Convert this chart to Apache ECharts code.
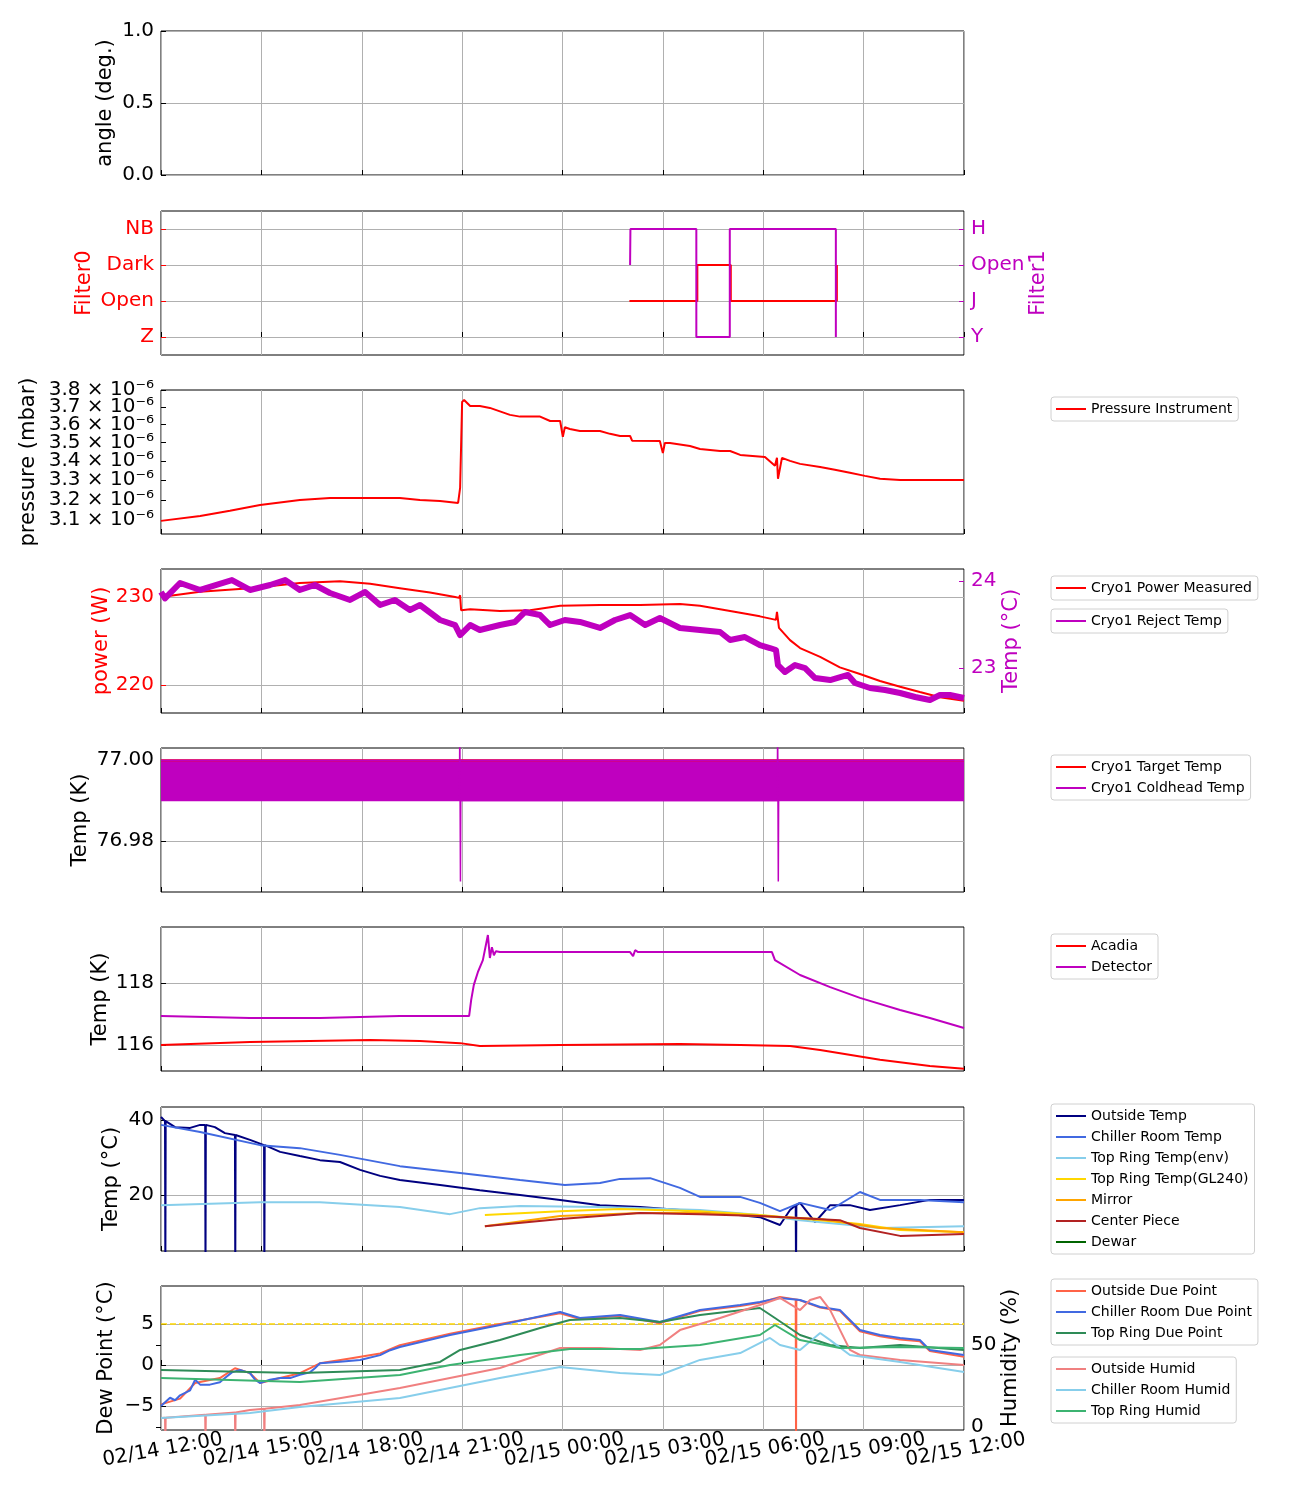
<!DOCTYPE html>
<html><head><meta charset="utf-8">
<script src="https://cdn.jsdelivr.net/npm/echarts@6/dist/echarts.min.js"></script>
<style>html,body{margin:0;padding:0;background:#fff}#c{width:1300px;height:1500px}</style>
</head><body><div id="c"></div>
<script>
// ---------- tick labels / categories ----------
const xTickLabels = ['02/14 12:00','02/14 15:00','02/14 18:00','02/14 21:00','02/15 00:00','02/15 03:00','02/15 06:00','02/15 09:00','02/15 12:00'];
const xTickHours = [0,3,6,9,12,15,18,21,24];
const filter0Names = ['Z','Open','Dark','NB'];
const filter1Names = ['Y','J','Open','H'];
const pressureTicks = [3.1e-6,3.2e-6,3.3e-6,3.4e-6,3.5e-6,3.6e-6,3.7e-6,3.8e-6];

// ---------- data (time in hours since 02/14 12:00) ----------
const filter0Time = [14.0, 16.03, 17.03, 20.2];
const filter0Val  = [1, 2, 1, 2];
const filter1Time = [14.02, 14.03, 16.0, 17.0, 20.17];
const filter1Val  = [2, 3, 0, 3, 0];

const pressureTime = [0,1.17,2.06,2.96,4.15,5.05,7.14,7.74,8.34,8.88,8.94,9.0,9.06,9.24,9.53,9.83,10.13,10.43,10.73,11.33,11.63,11.93,12.01,12.07,12.22,12.52,13.12,13.42,13.72,14.02,14.08,14.91,15.0,15.06,15.21,15.81,16.11,16.71,17.01,17.31,18.05,18.35,18.41,18.44,18.56,18.8,19.1,19.7,20.14,20.59,21.04,21.49,22.09,22.68,24];
const pressureVal  = [3.096,3.120,3.145,3.174,3.199,3.209,3.209,3.199,3.194,3.184,3.26,3.73,3.741,3.706,3.706,3.695,3.675,3.655,3.645,3.645,3.620,3.620,3.531,3.585,3.575,3.564,3.564,3.548,3.536,3.536,3.510,3.509,3.443,3.498,3.498,3.481,3.465,3.454,3.454,3.433,3.422,3.375,3.417,3.307,3.417,3.401,3.385,3.369,3.354,3.338,3.322,3.307,3.301,3.301,3.301].map(v=>v*1e-6);

const powerTime = [0,1.17,2.66,4.15,5.35,6.25,7.14,8.04,8.79,8.91,8.94,8.97,9.24,10.13,11.03,11.93,13.12,14.32,15.51,16.11,16.71,17.31,17.90,18.38,18.41,18.47,18.80,19.10,19.70,20.29,20.89,21.49,22.09,22.68,23.28,24];
const powerVal  = [230.0,230.6,231.0,231.6,231.8,231.5,231.0,230.5,230.0,229.9,230.2,228.5,228.6,228.4,228.5,229.0,229.1,229.1,229.2,229.0,228.6,228.2,227.8,227.4,228.3,226.5,225.1,224.2,223.2,222.0,221.25,220.45,219.8,219.2,218.6,218.2];

const rejectTime = [0,0.12,0.57,1.17,2.12,2.66,3.26,3.71,4.15,4.60,5.05,5.65,6.10,6.55,6.99,7.44,7.74,8.34,8.79,8.94,9.24,9.53,10.13,10.58,10.88,11.33,11.63,12.07,12.52,13.12,13.57,14.02,14.47,14.91,15.51,16.11,16.71,17.01,17.45,17.90,18.20,18.38,18.44,18.65,18.95,19.25,19.55,20.00,20.53,20.74,21.19,21.64,22.09,22.54,22.98,23.28,23.58,24];
const rejectVal  = [23.874,23.80,23.977,23.897,24.011,23.897,23.954,24.011,23.897,23.954,23.862,23.782,23.874,23.724,23.782,23.667,23.724,23.552,23.494,23.379,23.494,23.437,23.494,23.529,23.644,23.609,23.494,23.552,23.529,23.460,23.552,23.609,23.494,23.575,23.460,23.437,23.414,23.322,23.356,23.264,23.230,23.207,23.034,22.954,23.034,23.0,22.885,22.862,22.920,22.828,22.770,22.747,22.713,22.667,22.632,22.690,22.690,22.655];

const targetTime = [0, 24];
const targetVal  = [77.00, 77.00];
const coldheadBandTime = [0, 24];
const coldheadLow  = 76.99;
const coldheadHigh = [77.00, 77.00];
const coldheadSpikeTime = [8.92,8.93,8.95,8.96,8.98, 18.42,18.43,18.45,18.46,18.48];
const coldheadSpikeVal  = [76.99,77.01,76.970,76.99,76.99, 76.99,77.01,76.970,76.99,76.99];

const detectorTime = [0,2.66,4.75,7.14,9.21,9.27,9.35,9.47,9.62,9.77,9.83,9.89,9.95,10.01,10.13,14.02,14.11,14.17,14.26,18.26,18.35,19.10,20.0,20.89,22.09,22.98,24];
const detectorVal  = [116.94,116.87,116.87,116.94,116.94,117.45,117.94,118.35,118.74,119.55,118.81,119.16,118.9,119.03,119.0,119.0,118.87,119.06,119.0,119.0,118.74,118.26,117.87,117.52,117.13,116.87,116.55];
const acadiaTime = [0,2.66,6.25,7.74,8.94,9.53,11.93,15.51,17.31,18.80,19.70,21.49,22.98,24];
const acadiaVal  = [116.0,116.1,116.16,116.13,116.06,115.97,116.0,116.03,116.0,115.97,115.84,115.52,115.32,115.23];

const outsideTempTime = [0,0.12,0.13,0.14,0.42,0.87,1.17,1.32,1.33,1.34,1.61,1.91,2.21,2.22,2.23,2.66,3.08,3.09,3.10,3.56,4.15,4.75,5.35,5.95,6.55,7.14,8.34,9.53,10.73,11.93,13.12,14.32,15.51,16.71,17.90,18.50,18.80,18.97,18.98,18.99,19.10,19.55,20.00,20.59,21.19,22.09,22.98,24];
const outsideTempVal  = [40.8,39.7,0,39.7,38.1,37.9,38.7,38.7,0,38.7,38.1,36.5,36.0,0,36.0,34.7,33.3,0,33.3,31.5,30.4,29.3,28.8,26.7,25.1,24.0,22.7,21.3,20.0,18.7,17.3,16.8,16.0,15.2,14.1,12.0,16.0,17.3,0,17.3,17.9,12.8,17.3,17.3,16.0,17.3,18.7,18.7];
const chillerTempTime = [0,1.17,2.96,4.15,5.35,7.14,8.94,10.73,12.07,13.12,13.72,14.62,15.51,16.11,17.31,17.90,18.50,19.10,20.00,20.89,21.49,22.68,24];
const chillerTempVal  = [38.7,36.8,33.3,32.5,30.7,27.7,25.9,24.0,22.7,23.2,24.3,24.5,21.9,19.5,19.5,17.9,15.7,17.9,16.0,20.8,18.7,18.7,18.1];
const topRingEnvTime = [0,2.96,4.75,7.14,8.64,9.53,10.73,13.12,16.11,17.90,19.10,20.59,21.49,24];
const topRingEnvVal  = [17.3,18.1,18.1,16.8,14.9,16.5,17.1,16.8,16.0,14.7,13.3,12.0,11.2,11.7];
const gl240Time = [9.68,11.93,13.72,16.11,17.90,19.70,20.89,22.09,24];
const gl240Val  = [14.7,15.7,16.3,15.7,14.7,13.3,12.3,10.7,10.1];
const mirrorTime = [9.68,11.93,14.32,16.11,17.90,19.70,21.49,24];
const mirrorVal  = [11.7,14.4,15.2,15.2,14.4,13.6,11.2,10.1];
const centerTime = [9.68,11.93,14.32,16.11,17.90,20.29,20.89,22.09,24];
const centerVal  = [11.7,13.6,15.2,14.9,14.4,13.3,11.2,9.1,9.6];
const dewarTime = [];
const dewarVal  = [];

const dewThreshold = 5;
const chillerDPTime = [0,0.27,0.42,0.57,0.87,1.02,1.17,1.46,1.76,1.91,2.12,2.36,2.66,2.81,2.96,3.26,3.56,3.86,4.15,4.45,4.60,4.75,5.35,5.95,6.55,6.85,7.14,8.64,10.13,11.93,12.52,13.72,14.91,16.11,17.31,17.90,18.50,19.10,19.70,20.29,20.89,21.49,22.09,22.68,22.98,24];
const chillerDPVal  = [-5.0,-4.0,-4.3,-3.7,-3.1,-1.8,-2.4,-2.4,-2.1,-1.6,-0.9,-0.6,-1.0,-1.8,-2.2,-1.8,-1.6,-1.6,-1.2,-0.9,-0.4,0.2,0.4,0.6,1.2,1.8,2.2,3.66,4.88,6.46,5.73,6.1,5.24,6.71,7.32,7.68,8.17,7.93,7.07,6.71,4.27,3.66,3.29,3.05,1.83,1.22];
const outsideDPTime = [0,0.57,1.02,1.76,2.21,2.66,2.96,3.56,4.15,4.75,5.65,6.55,7.14,8.64,10.13,11.93,12.52,13.72,14.91,16.11,17.31,17.90,18.50,18.97,18.98,18.99,19.10,19.70,20.29,20.89,21.49,22.09,22.68,22.98,24];
const outsideDPVal  = [-4.8,-4.1,-2.2,-1.6,-0.4,-1.0,-2.2,-1.6,-1.0,0.2,0.8,1.4,2.4,3.8,5.0,6.3,5.6,6.0,5.1,6.6,7.2,7.6,8.3,8.0,-10,8.0,7.9,7.0,6.6,4.1,3.5,3.1,2.9,1.7,1.0];
const topRingDPTime = [0,2.66,4.15,7.14,8.34,8.94,10.13,11.33,12.22,13.72,14.91,16.11,17.90,18.35,19.10,20.0,20.89,22.09,24];
const topRingDPVal  = [-0.61,-0.85,-0.98,-0.61,0.37,1.83,3.05,4.51,5.49,5.73,5.24,6.1,6.95,5.73,3.66,2.44,2.07,2.44,1.83];

const outsideHumTime = [0,0.12,0.13,0.14,1.32,1.33,1.34,2.21,2.22,2.23,2.66,3.08,3.09,3.10,4.15,7.14,10.13,11.93,13.12,14.32,14.91,15.51,16.71,17.90,18.50,19.10,19.40,19.70,20.00,20.59,20.89,22.09,24];
const outsideHumVal  = [5.5,5.6,-10,5.6,7.4,-10,7.4,8.8,-10,8.8,10.4,11.2,-10,11.2,13.4,23.8,36,48.2,48.2,47,50,59.1,66.5,74.4,78.7,71.3,77.4,79.3,71.3,47,43.9,40.9,37.8];
const chillerHumTime = [0,2.66,4.15,7.14,10.13,11.93,13.72,14.91,16.11,17.31,18.20,18.50,19.10,19.70,20.00,20.59,22.09,24];
const chillerHumVal  = [5.5,8.5,12.2,17.7,29.9,36.6,32.9,31.7,40.9,45.1,54.3,50,47,57.3,53,43.9,39.6,33.5];
const topRingHumTime = [0,4.15,7.14,8.64,10.73,12.22,14.32,16.11,17.90,18.35,19.10,20.29,22.09,24];
const topRingHumVal  = [29.9,27.4,31.7,37.8,43.9,47.6,47.6,50,56.1,62.2,53,48.2,48.8,48.2];

// ---------- helpers ----------
const F = 'DejaVu Sans';
const RED = '#ff0000', MAG = '#bf00bf';
const gridTops = [31,211,390,569,748,927,1107,1286];
const zip = (t,v) => t.map((h,i)=>[h, v[i]]);
const evenIdx = (a) => a.filter((_,i)=>i%2===0);
const oddIdx  = (a) => a.filter((_,i)=>i%2===1);

function line(name, xi, yi, t, v, color, extra) {
  return Object.assign({
    type:'line', name, xAxisIndex:xi, yAxisIndex:yi, data:zip(t,v),
    showSymbol:false, symbol:'none', animation:false,
    lineStyle:{color, width:2}, itemStyle:{color}
  }, extra || {});
}
function yax(gi, o) {
  const col = o.color || '#000';
  return {
    type: o.type || 'value', gridIndex:gi, position:o.pos || 'left',
    min:o.min, max:o.max, interval:o.interval,
    name:o.name, nameLocation:'middle', nameRotate:90, nameGap:o.gap, nameMoveOverlap:false,
    nameTextStyle:{fontSize:21, fontFamily:F, color:col},
    axisLine:{show:false},
    axisTick:{show:o.tick !== false, inside:true, length:5, lineStyle:{color:col}, customValues:o.tickCustom || o.custom},
    axisLabel:Object.assign({fontSize:20, fontFamily:F, color:col, margin:7, customValues:o.custom, formatter:o.fmt,
                             showMinLabel:true, showMaxLabel:true, hideOverlap:false}, o.label||{}),
    splitLine:{show:o.split !== false, lineStyle:{color:'#b0b0b0', width:1}}
  };
}
function legend(names, top) {
  return {
    left:1051, top, orient:'vertical', data:names, icon:'rect', itemWidth:30, itemHeight:2, itemGap:7,
    selectedMode:false,
    textStyle:{fontSize:14, fontFamily:F, color:'#000', lineHeight:14},
    borderColor:'#d0d0d0', borderWidth:1, borderRadius:3, padding:[5,6,5,5], backgroundColor:'#fff'
  };
}
const minusFmt = v => (v < 0 ? '\u2212' + Math.abs(v) : String(v));
const pFmt = v => (v*1e6).toFixed(1) + ' \u00d7 10\u207b\u2076';

const grids = gridTops.map(t => ({left:161, top:t, width:803, height:144, show:true, borderColor:'#000', borderWidth:1, backgroundColor:'transparent'}));
const xLabelStyle = {fontSize:20, fontFamily:F, color:'#000', rotate:10, align:'center', verticalAlign:'top', margin:10,
                     showMinLabel:true, showMaxLabel:true, hideOverlap:false,
                     formatter:v => xTickLabels[xTickHours.indexOf(Math.round(v))]};
const xAxes = gridTops.map((t,i) => ({
  type:'value', gridIndex:i, min:0, max:24, interval:3,
  axisLine:{show:false},
  axisTick:{show:true, inside:true, length:5, lineStyle:{color:'#000'}},
  splitLine:{show:true, lineStyle:{color:'#b0b0b0', width:1}},
  axisLabel:Object.assign({}, xLabelStyle, {show:i === 7, customValues:evenIdx(xTickHours)})
}));
// second bottom axis on the last panel carrying the in-between labels
xAxes.push({
  type:'value', gridIndex:7, min:0, max:24, position:'bottom',
  axisLine:{show:false}, axisTick:{show:false}, splitLine:{show:false},
  axisLabel:Object.assign({}, xLabelStyle, {customValues:oddIdx(xTickHours)})
});

const yAxes = [
  yax(0, {min:0, max:1, interval:0.5, name:'angle (deg.)', gap:45, fmt:v=>v.toFixed(1)}),
  yax(1, {min:-0.5, max:3.5, custom:[0,1,2,3], name:'Filter0', gap:66, color:RED, fmt:v=>filter0Names[Math.round(v)]}),
  yax(1, {min:-0.5, max:3.5, custom:[0,1,2,3], name:'Filter1', gap:64, color:MAG, pos:'right', split:false, fmt:v=>filter1Names[Math.round(v)]}),
  yax(2, {type:'log', min:3.033e-6, max:3.8001e-6, custom:evenIdx(pressureTicks), tickCustom:pressureTicks, name:'pressure (mbar)', gap:122, split:false, fmt:pFmt}),
  yax(3, {min:216.82, max:233.18, custom:[220,230], name:'power (W)', gap:49, color:RED}),
  yax(3, {min:22.483, max:24.138, custom:[23,24], name:'Temp (\u00b0C)', gap:37, color:MAG, pos:'right', split:false}),
  yax(4, {min:76.9674, max:77.003, custom:[76.98,77.00], name:'Temp (K)', gap:70, fmt:v=>v.toFixed(2)}),
  yax(5, {min:115.16, max:119.81, custom:[116,118], name:'Temp (K)', gap:50}),
  yax(6, {min:5.07, max:43.47, custom:[20,40], name:'Temp (\u00b0C)', gap:39}),
  yax(7, {min:-7.93, max:9.63, custom:[-5,0,5], name:'Dew Point (\u00b0C)', gap:44, fmt:minusFmt}),
  yax(7, {min:-1.83, max:85.98, custom:[0,50], name:'Humidity (%)', gap:36, pos:'right', split:false}),
  // second left pressure axis carrying the in-between labels
  yax(2, {type:'log', min:3.033e-6, max:3.8001e-6, custom:oddIdx(pressureTicks), tick:false, split:false, fmt:pFmt})
];

const series = [
  line('Filter0', 1, 1, filter0Time, filter0Val, RED, {step:'end'}),
  line('Filter1', 1, 2, filter1Time, filter1Val, MAG, {step:'end'}),
  line('Pressure Instrument', 2, 3, pressureTime, pressureVal, RED),
  line('Cryo1 Power Measured', 3, 4, powerTime, powerVal, RED),
  line('Cryo1 Reject Temp', 3, 5, rejectTime, rejectVal, MAG, {lineStyle:{color:MAG, width:6, join:'round'}}),
  line('Cryo1 Target Temp', 4, 6, targetTime, targetVal, RED),
  line('Cryo1 Coldhead Temp', 4, 6, coldheadBandTime, coldheadHigh, MAG,
       {areaStyle:{color:MAG, opacity:1, origin:coldheadLow}, lineStyle:{color:MAG, width:1.5}}),
  line('Cryo1 Coldhead Temp', 4, 6, coldheadBandTime, coldheadBandTime.map(()=>coldheadLow), MAG, {lineStyle:{color:MAG, width:1.5}}),
  line('Cryo1 Coldhead Temp', 4, 6, coldheadSpikeTime, coldheadSpikeVal, MAG, {lineStyle:{color:MAG, width:1.5}}),
  line('Acadia', 5, 7, acadiaTime, acadiaVal, RED),
  line('Detector', 5, 7, detectorTime, detectorVal, MAG),
  line('Outside Temp', 6, 8, outsideTempTime, outsideTempVal, '#000080'),
  line('Chiller Room Temp', 6, 8, chillerTempTime, chillerTempVal, '#4169e1'),
  line('Top Ring Temp(env)', 6, 8, topRingEnvTime, topRingEnvVal, '#87ceeb'),
  line('Top Ring Temp(GL240)', 6, 8, gl240Time, gl240Val, '#ffd700'),
  line('Mirror', 6, 8, mirrorTime, mirrorVal, '#ffa500'),
  line('Center Piece', 6, 8, centerTime, centerVal, '#b22222'),
  line('Dewar', 6, 8, dewarTime, dewarVal, '#006400'),
  line('threshold', 7, 9, [0,24], [dewThreshold, dewThreshold], '#ffd700', {lineStyle:{color:'#ffd700', width:1.5, type:[6,3]}}),
  line('Outside Due Point', 7, 9, outsideDPTime, outsideDPVal, '#ff6347'),
  line('Chiller Room Due Point', 7, 9, chillerDPTime, chillerDPVal, '#4169e1'),
  line('Top Ring Due Point', 7, 9, topRingDPTime, topRingDPVal, '#2e8b57'),
  line('Outside Humid', 7, 10, outsideHumTime, outsideHumVal, '#f08080'),
  line('Chiller Room Humid', 7, 10, chillerHumTime, chillerHumVal, '#87ceeb'),
  line('Top Ring Humid', 7, 10, topRingHumTime, topRingHumVal, '#3cb371')
];

const option = {
  animation:false, backgroundColor:'#fff',
  grid:grids, xAxis:xAxes, yAxis:yAxes, series,
  legend:[
    legend(['Pressure Instrument'], 397),
    legend(['Cryo1 Power Measured'], 576),
    legend(['Cryo1 Reject Temp'], 609),
    legend(['Cryo1 Target Temp','Cryo1 Coldhead Temp'], 755),
    legend(['Acadia','Detector'], 934),
    legend(['Outside Temp','Chiller Room Temp','Top Ring Temp(env)','Top Ring Temp(GL240)','Mirror','Center Piece','Dewar'], 1104),
    legend(['Outside Due Point','Chiller Room Due Point','Top Ring Due Point'], 1279),
    legend(['Outside Humid','Chiller Room Humid','Top Ring Humid'], 1357)
  ]
};
const chart = echarts.init(document.getElementById('c'), null, {renderer:'canvas'});
chart.setOption(option);
</script></body></html>
